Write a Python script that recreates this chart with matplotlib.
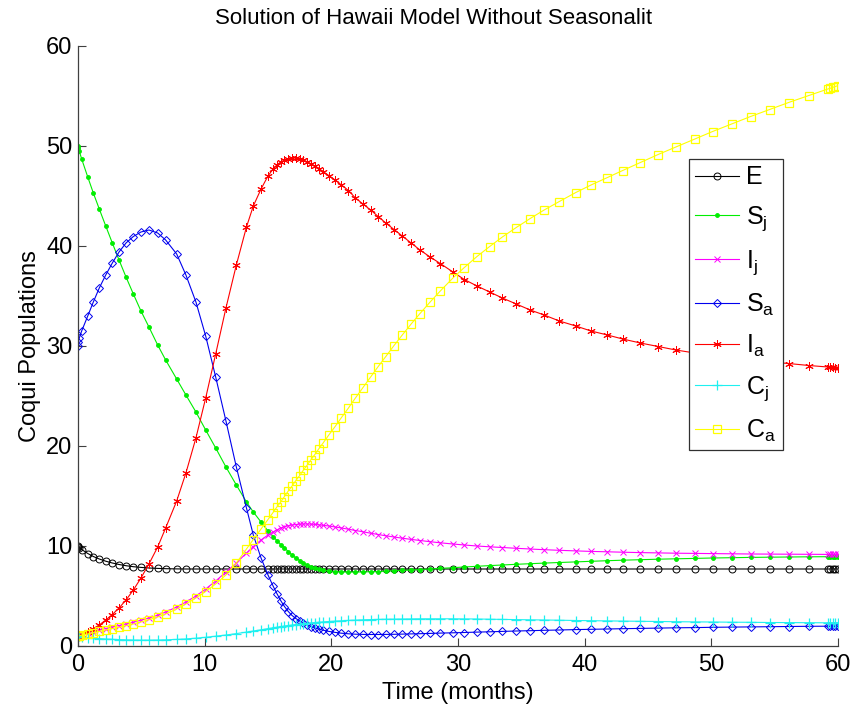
import matplotlib
matplotlib.use("Agg")
import matplotlib.pyplot as plt

plt.rcParams['font.family'] = ['Liberation Sans', 'DejaVu Sans']
plt.rcParams['mathtext.fontset'] = 'custom'
plt.rcParams['mathtext.rm'] = 'Liberation Sans'

# solver output times (months)
t = [0, 0.03, 0.1, 0.29, 0.77, 1.21, 1.68, 2.19, 2.71, 3.24,
     3.79, 4.37, 4.97, 5.6, 6.29, 6.92, 7.79, 8.52, 9.31, 10.08,
     10.87, 11.68, 12.5, 13.3, 13.84, 14.45, 15.0, 15.4, 15.7, 16.0,
     16.3, 16.6, 16.9, 17.2, 17.5, 17.8, 18.1, 18.4, 18.7, 19.0,
     19.35, 19.8, 20.3, 20.8, 21.35, 21.9, 22.5, 23.1, 23.7, 24.3,
     24.95, 25.6, 26.3, 27.0, 27.8, 28.6, 29.6, 30.5, 31.5, 32.5,
     33.5, 34.6, 35.7, 36.8, 38.0, 39.3, 40.5, 41.8, 43.0, 44.4,
     45.8, 47.2, 48.7, 50.1, 51.6, 53.1, 54.6, 56.1, 57.7, 59.2,
     59.4, 59.6, 59.8, 60]

E = [10.0, 9.95, 9.85, 9.65, 9.25, 8.95, 8.7, 8.48, 8.3, 8.15,
     8.03, 7.93, 7.86, 7.8, 7.76, 7.73, 7.71, 7.7, 7.7, 7.7,
     7.7, 7.7, 7.7, 7.7, 7.7, 7.7, 7.7, 7.7, 7.7, 7.7,
     7.7, 7.7, 7.7, 7.7, 7.7, 7.7, 7.7, 7.7, 7.7, 7.7,
     7.7, 7.7, 7.7, 7.7, 7.7, 7.7, 7.7, 7.7, 7.7, 7.7,
     7.7, 7.7, 7.7, 7.7, 7.7, 7.7, 7.7, 7.7, 7.7, 7.7,
     7.7, 7.7, 7.7, 7.7, 7.7, 7.7, 7.7, 7.7, 7.7, 7.7,
     7.7, 7.7, 7.7, 7.7, 7.7, 7.7, 7.7, 7.7, 7.7, 7.7,
     7.7, 7.7, 7.7, 7.7]

Sj = [50.0, 49.85, 49.5, 48.7, 46.9, 45.3, 43.7, 42.0, 40.3, 38.6,
      36.9, 35.2, 33.5, 31.9, 30.1, 28.6, 26.7, 25.1, 23.4, 21.6,
      19.8, 17.9, 16.1, 14.4, 13.4, 12.4, 11.5, 10.95, 10.55, 10.15,
      9.8, 9.45, 9.1, 8.8, 8.55, 8.3, 8.1, 7.93, 7.8, 7.68,
      7.58, 7.5, 7.44, 7.41, 7.4, 7.4, 7.41, 7.43, 7.45, 7.48,
      7.52, 7.56, 7.6, 7.65, 7.7, 7.76, 7.83, 7.9, 7.97, 8.04,
      8.1, 8.17, 8.23, 8.29, 8.35, 8.41, 8.47, 8.53, 8.58, 8.63,
      8.68, 8.72, 8.76, 8.8, 8.83, 8.86, 8.88, 8.9, 8.92, 8.93,
      8.93, 8.94, 8.94, 8.94]

Ij = [1.0, 1.02, 1.05, 1.12, 1.3, 1.45, 1.6, 1.75, 1.9, 2.05,
      2.2, 2.38, 2.58, 2.8, 3.08, 3.4, 3.9, 4.4, 5.0, 5.7,
      6.5, 7.4, 8.3, 9.3, 9.95, 10.6, 11.1, 11.4, 11.6, 11.8,
      11.93, 12.03, 12.1, 12.15, 12.18, 12.2, 12.2, 12.19, 12.16, 12.12,
      12.07, 12.0, 11.9, 11.8, 11.68, 11.55, 11.42, 11.28, 11.15, 11.02,
      10.9, 10.78, 10.66, 10.55, 10.43, 10.32, 10.2, 10.1, 10.0, 9.92,
      9.85, 9.77, 9.7, 9.63, 9.57, 9.51, 9.46, 9.42, 9.38, 9.34,
      9.31, 9.28, 9.26, 9.24, 9.22, 9.2, 9.19, 9.18, 9.17, 9.16,
      9.16, 9.16, 9.16, 9.16]

Sa = [30.0, 30.4, 30.8, 31.5, 33.0, 34.4, 35.8, 37.1, 38.3, 39.4,
      40.3, 40.95, 41.4, 41.6, 41.3, 40.6, 39.2, 37.1, 34.4, 31.0,
      26.9, 22.5, 17.9, 13.8, 11.1, 8.8, 7.1, 6.0, 5.25, 4.55,
      3.95, 3.45, 3.05, 2.75, 2.5, 2.3, 2.1, 1.95, 1.82, 1.7,
      1.58, 1.46, 1.36, 1.28, 1.22, 1.18, 1.16, 1.15, 1.15, 1.16,
      1.17, 1.19, 1.21, 1.23, 1.26, 1.29, 1.32, 1.35, 1.39, 1.42,
      1.46, 1.5, 1.53, 1.57, 1.6, 1.64, 1.67, 1.7, 1.73, 1.76,
      1.79, 1.82, 1.84, 1.87, 1.89, 1.91, 1.93, 1.95, 1.97, 1.98,
      1.98, 1.99, 1.99, 1.99]

Ia = [1.0, 1.02, 1.06, 1.15, 1.45, 1.75, 2.1, 2.6, 3.15, 3.8,
      4.6, 5.6, 6.8, 8.2, 9.9, 11.8, 14.5, 17.3, 20.8, 24.8,
      29.2, 33.8, 38.1, 41.9, 44.0, 45.7, 47.0, 47.7, 48.1, 48.4,
      48.6, 48.75, 48.8, 48.8, 48.72, 48.6, 48.42, 48.22, 48.0, 47.75,
      47.45, 47.05, 46.6, 46.1, 45.55, 44.8, 44.2, 43.6, 42.95, 42.3,
      41.65, 41.0, 40.3, 39.6, 38.9, 38.25, 37.4, 36.65, 36.0, 35.4,
      34.8, 34.2, 33.6, 33.1, 32.5, 32.0, 31.5, 31.1, 30.7, 30.3,
      29.95, 29.6, 29.3, 29.05, 28.8, 28.6, 28.4, 28.25, 28.05, 27.9,
      27.88, 27.86, 27.85, 27.84]

Cj = [1.0, 0.99, 0.97, 0.93, 0.85, 0.79, 0.74, 0.7, 0.67, 0.64,
      0.62, 0.6, 0.59, 0.59, 0.6, 0.62, 0.66, 0.71, 0.78, 0.87,
      0.98, 1.1, 1.24, 1.39, 1.5, 1.62, 1.74, 1.82, 1.88, 1.94,
      2.0, 2.05, 2.1, 2.15, 2.19, 2.23, 2.27, 2.31, 2.34, 2.38,
      2.41, 2.45, 2.49, 2.52, 2.56, 2.59, 2.62, 2.64, 2.66, 2.68,
      2.69, 2.7, 2.71, 2.72, 2.72, 2.72, 2.72, 2.71, 2.7, 2.68,
      2.66, 2.64, 2.62, 2.6, 2.58, 2.55, 2.53, 2.51, 2.49, 2.47,
      2.45, 2.43, 2.41, 2.4, 2.38, 2.37, 2.35, 2.34, 2.33, 2.32,
      2.32, 2.32, 2.32, 2.32]

Ca = [1.0, 1.01, 1.03, 1.08, 1.2, 1.33, 1.46, 1.6, 1.74, 1.88,
      2.03, 2.2, 2.4, 2.63, 2.9, 3.2, 3.7, 4.2, 4.8, 5.45,
      6.2, 7.1, 8.3, 9.7, 10.65, 11.7, 12.65, 13.35, 13.9, 14.4,
      14.95, 15.5, 16.0, 16.55, 17.05, 17.6, 18.1, 18.65, 19.15, 19.7,
      20.3, 21.1, 21.95, 22.85, 23.8, 24.8, 25.85, 26.9, 27.95, 28.95,
      30.05, 31.1, 32.2, 33.25, 34.4, 35.5, 36.8, 37.85, 38.95, 39.95,
      40.9, 41.85, 42.75, 43.6, 44.45, 45.35, 46.1, 46.85, 47.55, 48.35,
      49.15, 49.9, 50.7, 51.45, 52.2, 52.95, 53.65, 54.35, 55.05, 55.7,
      55.78, 55.87, 55.95, 56.05]

# (values, legend label, colour, marker, marker size)
series = [
    (E, 'E', 'k', 'o', 5),
    (Sj, r'$\mathregular{S_j}$', '#00ee00', '.', 5.5),
    (Ij, r'$\mathregular{I_j}$', '#ff00ff', 'x', 4.5),
    (Sa, r'$\mathregular{S_a}$', '#0000ee', 'D', 3.8),
    (Ia, r'$\mathregular{I_a}$', '#ff0000', (6, 2, 0), 6),
    (Cj, r'$\mathregular{C_j}$', '#1ef0f0', '+', 6.5),
    (Ca, r'$\mathregular{C_a}$', '#ffff00', 's', 5.5),
]

fig = plt.figure(figsize=(8.52, 7.13), dpi=100)
ax = fig.add_axes([78 / 852, 1 - 646 / 713, 760 / 852, 600 / 713])

for vals, lab, col, mk, ms in series:
    mew = 0.9 if mk in ('s', '+') else 0.7
    ax.plot(t, vals, color=col, lw=0.8, marker=mk, ms=ms, mew=mew,
            mfc=col if mk == '.' else 'none', label=lab)

ax.set_xlim(0, 60)
ax.set_ylim(0, 60)
ax.set_xticks(range(0, 61, 10))
ax.set_yticks(range(0, 61, 10))
ax.tick_params(direction='in', length=6, width=0.8, labelsize=17,
               colors='#404040', labelcolor='black', pad=6)
ax.tick_params(axis='y', pad=4)
for s in ['top', 'right']:
    ax.spines[s].set_visible(False)
for s in ['left', 'bottom']:
    ax.spines[s].set_color('#404040')
    ax.spines[s].set_linewidth(0.9)

ax.set_xlabel('Time (months)', fontsize=17, labelpad=4)
ax.set_ylabel('Coqui Populations', fontsize=17, labelpad=4)
fig.text(215 / 852, 1 - 18 / 713, 'Solution of Hawaii Model Without Seasonalit',
         fontsize=16, ha='left', va='center')

leg = ax.legend(loc='upper left', bbox_to_anchor=(689 / 852, 1 - 159 / 713),
                bbox_transform=fig.transFigure, fontsize=18, numpoints=1,
                handlelength=1.75, handletextpad=0.3, labelspacing=0.6,
                borderpad=0.25, fancybox=False, framealpha=1,
                borderaxespad=0)
leg.get_frame().set_edgecolor('#303030')
leg.get_frame().set_linewidth(0.9)

fig.savefig('out.png', dpi=100, facecolor='white')
